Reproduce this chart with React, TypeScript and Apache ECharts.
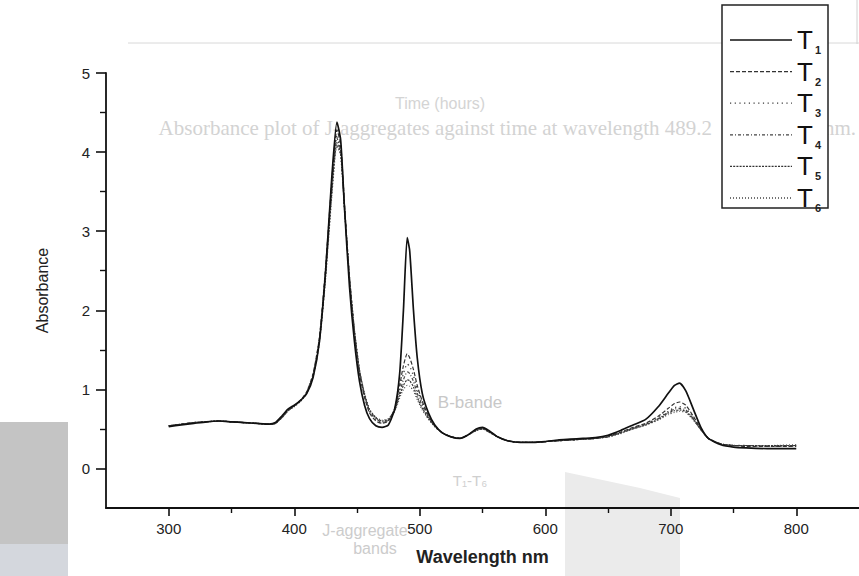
import React, { useEffect, useRef } from "react";
import * as echarts from "echarts";

const wavelengths = [300,310,320,330,340,350,360,370,380,385,390,395,400,405,410,415,420,425,430,434,437,440,444,448,452,456,460,465,470,475,480,484,487,490,492,495,498,502,507,512,518,525,532,538,545,550,555,562,570,580,590,600,610,620,630,640,650,660,670,680,690,698,703,707,712,718,724,730,740,750,760,780,800];

const T1 = [0.53,0.55,0.57,0.59,0.60,0.59,0.58,0.57,0.56,0.58,0.66,0.75,0.80,0.86,0.95,1.15,1.60,2.50,3.70,4.38,4.15,3.30,2.30,1.60,1.10,0.80,0.63,0.54,0.52,0.55,0.75,1.20,2.00,2.92,2.75,2.00,1.40,0.95,0.70,0.55,0.45,0.40,0.38,0.42,0.50,0.52,0.48,0.40,0.35,0.33,0.33,0.34,0.36,0.37,0.38,0.39,0.42,0.48,0.55,0.62,0.78,0.95,1.05,1.08,0.98,0.75,0.52,0.38,0.30,0.27,0.26,0.25,0.25];
const T2 = [0.54,0.56,0.58,0.59,0.60,0.59,0.58,0.57,0.56,0.57,0.65,0.74,0.79,0.86,0.97,1.20,1.65,2.55,3.65,4.28,4.10,3.35,2.40,1.70,1.20,0.90,0.70,0.60,0.57,0.60,0.76,1.05,1.30,1.45,1.40,1.25,1.05,0.85,0.66,0.54,0.45,0.40,0.38,0.42,0.49,0.51,0.47,0.40,0.35,0.33,0.33,0.34,0.35,0.36,0.37,0.38,0.41,0.46,0.52,0.57,0.66,0.76,0.82,0.84,0.80,0.66,0.50,0.38,0.31,0.29,0.28,0.28,0.28];
const T3 = [0.54,0.56,0.58,0.59,0.60,0.59,0.58,0.57,0.56,0.57,0.64,0.73,0.79,0.86,0.97,1.19,1.63,2.50,3.58,4.22,4.05,3.33,2.42,1.72,1.22,0.92,0.72,0.62,0.58,0.61,0.75,1.00,1.20,1.32,1.29,1.17,1.00,0.82,0.65,0.54,0.45,0.40,0.38,0.42,0.49,0.51,0.47,0.40,0.35,0.33,0.33,0.34,0.35,0.36,0.37,0.38,0.40,0.45,0.51,0.56,0.64,0.72,0.77,0.78,0.76,0.64,0.50,0.38,0.31,0.29,0.29,0.28,0.29];
const T4 = [0.54,0.56,0.58,0.59,0.60,0.59,0.58,0.57,0.56,0.57,0.64,0.73,0.79,0.86,0.96,1.18,1.62,2.47,3.54,4.18,4.02,3.31,2.42,1.73,1.23,0.93,0.73,0.63,0.59,0.61,0.74,0.96,1.12,1.22,1.20,1.10,0.95,0.79,0.64,0.53,0.45,0.40,0.38,0.42,0.48,0.50,0.47,0.40,0.35,0.33,0.33,0.34,0.35,0.36,0.37,0.38,0.40,0.45,0.51,0.56,0.63,0.71,0.75,0.76,0.74,0.63,0.49,0.38,0.31,0.29,0.29,0.28,0.29];
const T5 = [0.54,0.56,0.58,0.59,0.60,0.59,0.58,0.57,0.56,0.57,0.64,0.73,0.79,0.85,0.96,1.17,1.60,2.44,3.50,4.12,3.98,3.30,2.42,1.74,1.24,0.94,0.74,0.64,0.60,0.62,0.73,0.92,1.05,1.12,1.11,1.03,0.90,0.76,0.63,0.53,0.45,0.40,0.38,0.42,0.48,0.50,0.46,0.40,0.35,0.33,0.33,0.34,0.35,0.36,0.37,0.38,0.40,0.45,0.50,0.55,0.62,0.70,0.73,0.74,0.72,0.62,0.49,0.38,0.31,0.29,0.29,0.29,0.29];
const T6 = [0.54,0.56,0.58,0.59,0.60,0.59,0.58,0.57,0.56,0.57,0.64,0.73,0.78,0.85,0.95,1.16,1.58,2.40,3.45,4.08,3.95,3.28,2.42,1.75,1.25,0.95,0.75,0.65,0.61,0.63,0.72,0.89,1.00,1.05,1.04,0.98,0.87,0.74,0.62,0.53,0.45,0.40,0.38,0.42,0.48,0.50,0.46,0.40,0.35,0.33,0.33,0.34,0.35,0.36,0.37,0.38,0.40,0.44,0.50,0.55,0.61,0.68,0.71,0.72,0.71,0.61,0.49,0.38,0.31,0.29,0.29,0.29,0.30];

const seriesNames = ["T1", "T2", "T3", "T4", "T5", "T6"];
const seriesValues = [T1, T2, T3, T4, T5, T6];
const legendSubscripts = ["1", "2", "3", "4", "5", "6"];
const xMajorTicks = [300, 400, 500, 600, 700, 800];
const xMinorTicks = [350, 450, 550, 650, 750];
const yMajorTicks = [0, 1, 2, 3, 4, 5];
const yMinorTicks = [0.5, 1.5, 2.5, 3.5, 4.5];

const lineDashes: (number[] | "solid")[] = ["solid", [4, 2], [1.2, 3.5], [3, 2, 1, 2], [2, 1.2], [1, 2]];
const lineColors = ["#111111", "#333333", "#3a3a3a", "#444444", "#333333", "#444444"];
const lineWidths = [1.7, 1.2, 1.3, 1.2, 1.2, 1.2];

const FONT = "'Liberation Sans', Arial, sans-serif";

export default function App() {
  const ref = useRef<HTMLDivElement>(null);
  useEffect(() => {
    if (!ref.current) return;
    const chart = echarts.init(ref.current, undefined, { renderer: "svg" });
    const gridLeft = 106;
    const gridTop = 73;
    const gridWidth = 757;
    const gridHeight = 435;

    const series = seriesNames.map((name, si) => ({
      name,
      type: "line",
      xAxisIndex: 0,
      yAxisIndex: 0,
      symbol: "none",
      smooth: 0.2,
      z: 10 - si,
      data: wavelengths.map((w, i) => [w, seriesValues[si][i]]),
      lineStyle: {
        color: lineColors[si],
        width: lineWidths[si],
        type: lineDashes[si],
      },
    }));

    const legendTop = 40;
    const legendStep = 31.6;
    const legendGraphics: any[] = [
      {
        type: "rect",
        shape: { x: 722, y: 5, width: 106, height: 203 },
        style: { fill: "#ffffff", stroke: "#222222", lineWidth: 1.5 },
        z: 100,
      },
    ];
    seriesNames.forEach((name, i) => {
      const y = legendTop + i * legendStep;
      legendGraphics.push({
        type: "line",
        shape: { x1: 730, y1: y, x2: 792, y2: y },
        style: {
          stroke: lineColors[i],
          lineWidth: i === 0 ? 1.6 : 1.3,
          lineDash: lineDashes[i] === "solid" ? null : lineDashes[i],
        },
        z: 101,
      });
      legendGraphics.push({
        type: "text",
        x: 797,
        y: y,
        style: {
          text: "T",
          font: `26px ${FONT}`,
          fill: "#111",
          verticalAlign: "middle",
        },
        z: 101,
      });
      legendGraphics.push({
        type: "text",
        x: 815,
        y: y + 10,
        style: {
          text: legendSubscripts[i],
          font: `bold 11px ${FONT}`,
          fill: "#222",
          verticalAlign: "middle",
        },
        z: 101,
      });
    });

    const artifacts: any[] = [
      { type: "rect", shape: { x: 0, y: 422, width: 68, height: 122 }, style: { fill: "#c4c4c4" }, z: 0 },
      { type: "rect", shape: { x: 0, y: 544, width: 68, height: 32 }, style: { fill: "#d4d7dd" }, z: 0 },
      { type: "line", shape: { x1: 128, y1: 43, x2: 859, y2: 43 }, style: { stroke: "#d8d8d8", lineWidth: 1 }, z: 0 },
      { type: "line", shape: { x1: 857, y1: 0, x2: 857, y2: 44 }, style: { stroke: "#d0d0d0", lineWidth: 1 }, z: 0 },
      { type: "text", x: 440, y: 103, style: { text: "Time (hours)", font: `16px ${FONT}`, fill: "#d4d4d4", align: "center", verticalAlign: "middle" }, z: 0 },
      { type: "text", x: 712, y: 128, style: { text: "Absorbance plot of J-aggregates against time at wavelength 489.2", font: `21px 'Liberation Serif', serif`, fill: "#d3d3d3", align: "right", verticalAlign: "middle" }, z: 0 },
      { type: "text", x: 856, y: 128, style: { text: "nm.", font: `21px 'Liberation Serif', serif`, fill: "#d3d3d3", align: "right", verticalAlign: "middle" }, z: 0 },
      { type: "text", x: 470, y: 402, style: { text: "B-bande", font: `17px ${FONT}`, fill: "#c8c8c8", align: "center", verticalAlign: "middle" }, z: 0 },
      { type: "text", x: 365, y: 530, style: { text: "J-aggregate", font: `16px ${FONT}`, fill: "#cccccc", align: "center", verticalAlign: "middle" }, z: 0 },
      { type: "text", x: 375, y: 548, style: { text: "bands", font: `16px ${FONT}`, fill: "#cccccc", align: "center", verticalAlign: "middle" }, z: 0 },
      { type: "text", x: 470, y: 480, style: { text: "T\u2081-T\u2086", font: `15px ${FONT}`, fill: "#cfcfcf", align: "center", verticalAlign: "middle" }, z: 0 },
      { type: "polygon", shape: { points: [[565, 472], [640, 488], [680, 498], [680, 576], [565, 576]] }, style: { fill: "#ebebeb" }, z: 0 },
    ];

    chart.setOption({
      animation: false,
      backgroundColor: "#ffffff",
      grid: { left: gridLeft, top: gridTop, width: gridWidth, height: gridHeight, containLabel: false },
      xAxis: [
        {
          type: "value",
          min: 250,
          max: 850,
          interval: 50,
          splitLine: { show: false },
          axisLine: { show: true, onZero: false, lineStyle: { color: "#111", width: 1.8 } },
          axisTick: { show: true, inside: false, length: 8, customValues: xMajorTicks, lineStyle: { color: "#111", width: 1.6 } },
          axisLabel: { customValues: xMajorTicks, color: "#222", fontFamily: FONT, fontSize: 15, margin: 13 },
          name: "Wavelength nm",
          nameLocation: "middle",
          nameGap: 40,
          nameTextStyle: { color: "#222", fontFamily: FONT, fontSize: 18, fontWeight: "bold" },
        },
        {
          type: "value",
          min: 250,
          max: 850,
          interval: 50,
          position: "bottom",
          splitLine: { show: false },
          axisLine: { show: false, onZero: false },
          axisTick: { show: true, inside: false, length: 5, customValues: xMinorTicks, lineStyle: { color: "#111", width: 1.4 } },
          axisLabel: { show: false },
        },
      ],
      yAxis: [
        {
          type: "value",
          min: -0.5,
          max: 5,
          interval: 0.5,
          splitLine: { show: false },
          axisLine: { show: true, onZero: false, lineStyle: { color: "#111", width: 1.8 } },
          axisTick: { show: true, inside: false, length: 10, customValues: yMajorTicks, lineStyle: { color: "#111", width: 1.6 } },
          axisLabel: { customValues: yMajorTicks, color: "#222", fontFamily: FONT, fontSize: 15, margin: 16 },
          name: "Absorbance",
          nameLocation: "middle",
          nameGap: 56,
          nameTextStyle: { color: "#222", fontFamily: FONT, fontSize: 16 },
        },
        {
          type: "value",
          min: -0.5,
          max: 5,
          interval: 0.5,
          position: "left",
          splitLine: { show: false },
          axisLine: { show: false, onZero: false },
          axisTick: { show: true, inside: false, length: 6, customValues: yMinorTicks, lineStyle: { color: "#111", width: 1.4 } },
          axisLabel: { show: false },
        },
      ],
      series,
      graphic: [...artifacts, ...legendGraphics],
    });
    return () => chart.dispose();
  }, []);
  return (
    <div
      ref={ref}
      style={{ position: "absolute", left: 0, top: 0, width: 859, height: 576 }}
    />
  );
}
